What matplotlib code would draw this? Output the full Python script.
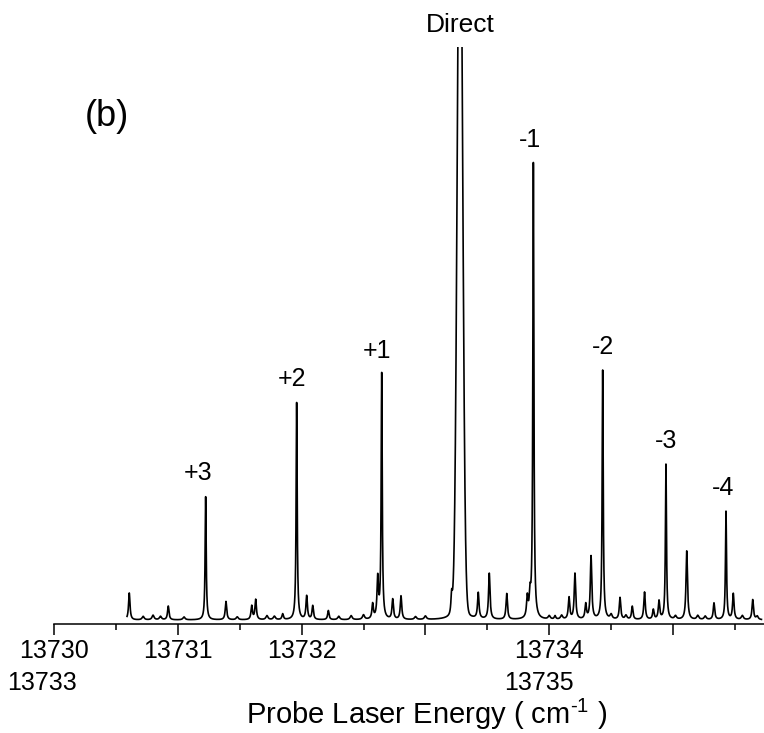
import numpy as np
import matplotlib
matplotlib.use('Agg')
import matplotlib.pyplot as plt

plt.rcParams['font.family'] = ['Liberation Sans', 'DejaVu Sans']
plt.rcParams['mathtext.fontset'] = 'custom'
plt.rcParams['mathtext.rm'] = 'Liberation Sans'
plt.rcParams['mathtext.it'] = 'Liberation Sans:italic'

# progression lines (cm-1, intensity in arb. units)
line_labels = ['+3', '+2', '+1', '-1', '-2', '-3', '-4']
line_pos = [13731.225, 13731.960, 13732.647, 13733.872, 13734.432, 13734.943, 13735.428]
line_height = [21.5, 37.9, 42.8, 79.5, 43.5, 27.1, 18.9]

# direct line, goes off scale
direct_pos = 13733.279
direct_height = 134.0
direct_sigma = 0.021
direct_wing = 4.0
direct_wing_fwhm = 0.08

# weaker lines
small_pos = [13730.608, 13730.923, 13731.389, 13731.597, 13731.629, 13731.847,
             13732.041, 13732.090, 13732.216, 13732.574, 13732.615, 13732.736,
             13732.803, 13733.212, 13733.427, 13733.516, 13733.657, 13733.823,
             13733.845, 13734.047, 13734.160, 13734.208, 13734.295, 13734.338,
             13734.572, 13734.671, 13734.770, 13734.841, 13734.887, 13735.111,
             13735.331, 13735.487, 13735.644]
small_height = [4.7, 2.4, 3.2, 2.4, 3.5, 1.0,
                4.1, 2.4, 1.6, 2.6, 7.0, 3.5,
                4.1, 3.5, 4.5, 8.0, 4.5, 3.5,
                3.5, 0.6, 3.8, 8.0, 2.6, 11.0,
                3.8, 2.3, 4.8, 1.7, 3.2, 12.0,
                2.9, 4.5, 3.5]

# baseline ripple
ripple_pos = [13730.72, 13730.80, 13730.86, 13731.05, 13731.48, 13731.72,
              13731.78, 13732.30, 13732.40, 13732.50, 13732.92, 13733.00,
              13734.00, 13734.10, 13734.50, 13734.62, 13735.02, 13735.20,
              13735.26, 13735.56, 13735.68]
ripple_height = [0.6, 0.8, 0.6, 0.5, 0.5, 0.7,
                 0.6, 0.6, 0.7, 0.8, 0.5, 0.6,
                 0.6, 0.7, 0.8, 0.7, 0.6, 0.7,
                 0.6, 0.7, 0.6]

scan_start, scan_end = 13730.59, 13735.715


def lorentz(x, x0, h, fwhm):
    return h / (1 + ((x - x0) / (fwhm / 2)) ** 2)


x = np.arange(scan_start, scan_end, 0.0005)
y = np.zeros_like(x)
for p, h in zip(line_pos, line_height):
    y += lorentz(x, p, h, 0.010)
for p, h in zip(small_pos, small_height):
    y += lorentz(x, p, h, 0.014)
for p, h in zip(ripple_pos, ripple_height):
    y += lorentz(x, p, h, 0.02)
y += direct_height * np.exp(-0.5 * ((x - direct_pos) / direct_sigma) ** 2)
y += lorentz(x, direct_pos, direct_wing, direct_wing_fwhm)

fig = plt.figure(figsize=(7.64, 7.33), dpi=100)
ax = fig.add_axes([54 / 764, 109 / 733, 710 / 764, 577 / 733])
ax.plot(x, y, color='black', lw=1.2)

ax.set_xlim(13730, 13730 + 710 / 123.8)
ax.set_ylim(-0.7, 100)

for s in ['left', 'right', 'top']:
    ax.spines[s].set_visible(False)
ax.spines['bottom'].set_linewidth(1.1)
ax.set_yticks([])

ax.set_xticks([13730, 13731, 13732, 13733, 13734, 13735])
ax.set_xticklabels(['13730', '13731', '13732', '', '13734', ''])
ax.set_xticks(np.arange(13730.5, 13736, 1), minor=True)
ax.tick_params(axis='x', which='major', length=8, width=1.1, labelsize=18, pad=3)
ax.tick_params(axis='x', which='minor', length=4.5, width=1.1)

# the two labels pushed onto a second row
trans = ax.get_xaxis_transform()
ax.text(13729.903, -0.103, '13733', transform=trans, ha='center', va='center',
        fontsize=18, clip_on=False)
ax.text(13733.918, -0.103, '13735', transform=trans, ha='center', va='center',
        fontsize=18, clip_on=False)

ax.set_xlabel('Probe Laser Energy ( cm$^{\\text{-1}}$ )', fontsize=21)
ax.xaxis.set_label_coords(0.524, -0.126)

# peak labels
label_dx = [-8, -5, -5, -3, 0, 0, -3]
for lab, p, h, dx in zip(line_labels, line_pos, line_height, label_dx):
    ax.annotate(lab, (p, h), xytext=(dx, 24), textcoords='offset pixels',
                ha='center', va='center', fontsize=18)
ax.text(direct_pos, 103.8, 'Direct', ha='center', va='center', fontsize=19)
ax.text(13730.428, 87.8, '(b)', ha='center', va='center', fontsize=26)

fig.savefig('out.png', dpi=100)
